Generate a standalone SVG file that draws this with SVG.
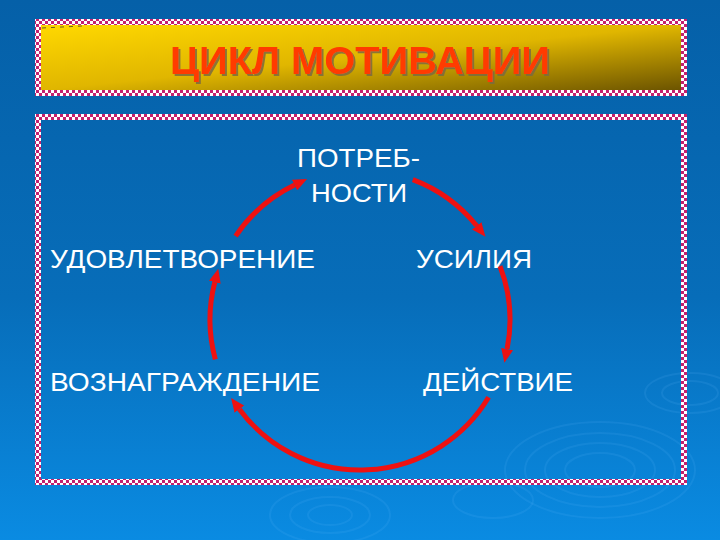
<svg xmlns="http://www.w3.org/2000/svg" width="720" height="540" viewBox="0 0 720 540">
  <defs>
    <linearGradient id="bg" x1="0" y1="0" x2="0" y2="1">
      <stop offset="0" stop-color="#0560a8"/>
      <stop offset="0.55" stop-color="#076db9"/>
      <stop offset="1" stop-color="#0a8be2"/>
    </linearGradient>
    <linearGradient id="gold" x1="0" y1="0" x2="1" y2="1">
      <stop offset="0" stop-color="#ffd800"/>
      <stop offset="0.5" stop-color="#e0b600"/>
      <stop offset="1" stop-color="#6c5400"/>
    </linearGradient>
    <pattern id="checker" x="0" y="0" width="6" height="6" patternUnits="userSpaceOnUse">
      <rect width="6" height="6" fill="#ffffff"/>
      <rect x="0" y="0" width="3" height="3" fill="#c4206e"/>
      <rect x="3" y="3" width="3" height="3" fill="#c4206e"/>
    </pattern>
    <filter id="shadow" x="-5%" y="-20%" width="110%" height="140%">
      <feDropShadow dx="2" dy="2" stdDeviation="0.6" flood-color="#7a6a40" flood-opacity="0.85"/>
    </filter>
    <marker id="head" viewBox="0 0 14 12" refX="0" refY="6" markerWidth="14" markerHeight="12" markerUnits="userSpaceOnUse" orient="auto">
      <path d="M0,0 L14,6 L0,12 z" fill="#ee1111"/>
    </marker>
  </defs>
  <style>
    .lbl { font-family: "Liberation Sans", Arial, sans-serif; font-size: 26px; fill: #ffffff; }
    .title { font-family: "Liberation Sans", Arial, sans-serif; font-size: 39px; font-weight: bold; text-anchor: middle; fill: #ff3a00; }
    .arc { fill: none; stroke: #ee1111; stroke-width: 5; marker-end: url(#head); }
    .ripple { fill: none; stroke: #6cc0ff; stroke-opacity: 0.12; stroke-width: 2; }
  </style>

  <rect width="720" height="540" fill="url(#bg)"/>

  <g id="ripples">
    <ellipse class="ripple" cx="600" cy="470" rx="95" ry="48"/>
    <ellipse class="ripple" cx="600" cy="470" rx="75" ry="37"/>
    <ellipse class="ripple" cx="600" cy="470" rx="55" ry="27"/>
    <ellipse class="ripple" cx="600" cy="470" rx="35" ry="17"/>
    <ellipse class="ripple" cx="330" cy="515" rx="60" ry="28"/>
    <ellipse class="ripple" cx="330" cy="515" rx="40" ry="18"/>
    <ellipse class="ripple" cx="330" cy="515" rx="22" ry="10"/>
    <ellipse class="ripple" cx="690" cy="393" rx="45" ry="20"/>
    <ellipse class="ripple" cx="690" cy="393" rx="28" ry="12"/>
    <ellipse class="ripple" cx="493" cy="500" rx="40" ry="18"/>
  </g>

  <g id="title-box">
    <path d="M35,19 H687 V96 H35 Z M41,25 V90 H681 V25 Z" fill="url(#checker)" fill-rule="evenodd"/>
    <rect x="41" y="25" width="640" height="65" fill="url(#gold)"/>
    <line x1="42" y1="28" x2="82" y2="26" stroke="#6a5a20" stroke-width="1" stroke-dasharray="4,5"/>
    <text class="title" x="360" y="74" textLength="380" lengthAdjust="spacingAndGlyphs" filter="url(#shadow)">ЦИКЛ МОТИВАЦИИ</text>
  </g>

  <g id="main-box">
    <path d="M35,114 H687 V485 H35 Z M41,120 V479 H681 V120 Z" fill="url(#checker)" fill-rule="evenodd"/>
  </g>

  <g id="connectors">
    <path class="arc" d="M235.6,236.1 A150,150 0 0 1 294.5,185.1"/>
    <path class="arc" d="M412.8,179.6 A150,150 0 0 1 476.7,225.8"/>
    <path class="arc" d="M500.0,266.2 A150,150 0 0 1 507.1,349.1"/>
    <path class="arc" d="M488.6,397.3 A150,150 0 0 1 239.4,409.2"/>
    <path class="arc" d="M215.3,359.3 A150,150 0 0 1 214.8,282.2"/>
  </g>

  <g id="node-needs">
    <text class="lbl" x="297" y="167" textLength="123" lengthAdjust="spacingAndGlyphs">ПОТРЕБ-</text>
    <text class="lbl" x="311" y="202" textLength="96" lengthAdjust="spacingAndGlyphs">НОСТИ</text>
  </g>
  <g id="node-satisfaction">
    <text class="lbl" x="50" y="268" textLength="265" lengthAdjust="spacingAndGlyphs">УДОВЛЕТВОРЕНИЕ</text>
  </g>
  <g id="node-efforts">
    <text class="lbl" x="416" y="268" textLength="116" lengthAdjust="spacingAndGlyphs">УСИЛИЯ</text>
  </g>
  <g id="node-reward">
    <text class="lbl" x="50" y="391" textLength="270" lengthAdjust="spacingAndGlyphs">ВОЗНАГРАЖДЕНИЕ</text>
  </g>
  <g id="node-action">
    <text class="lbl" x="423" y="391" textLength="150" lengthAdjust="spacingAndGlyphs">ДЕЙСТВИЕ</text>
  </g>
</svg>
